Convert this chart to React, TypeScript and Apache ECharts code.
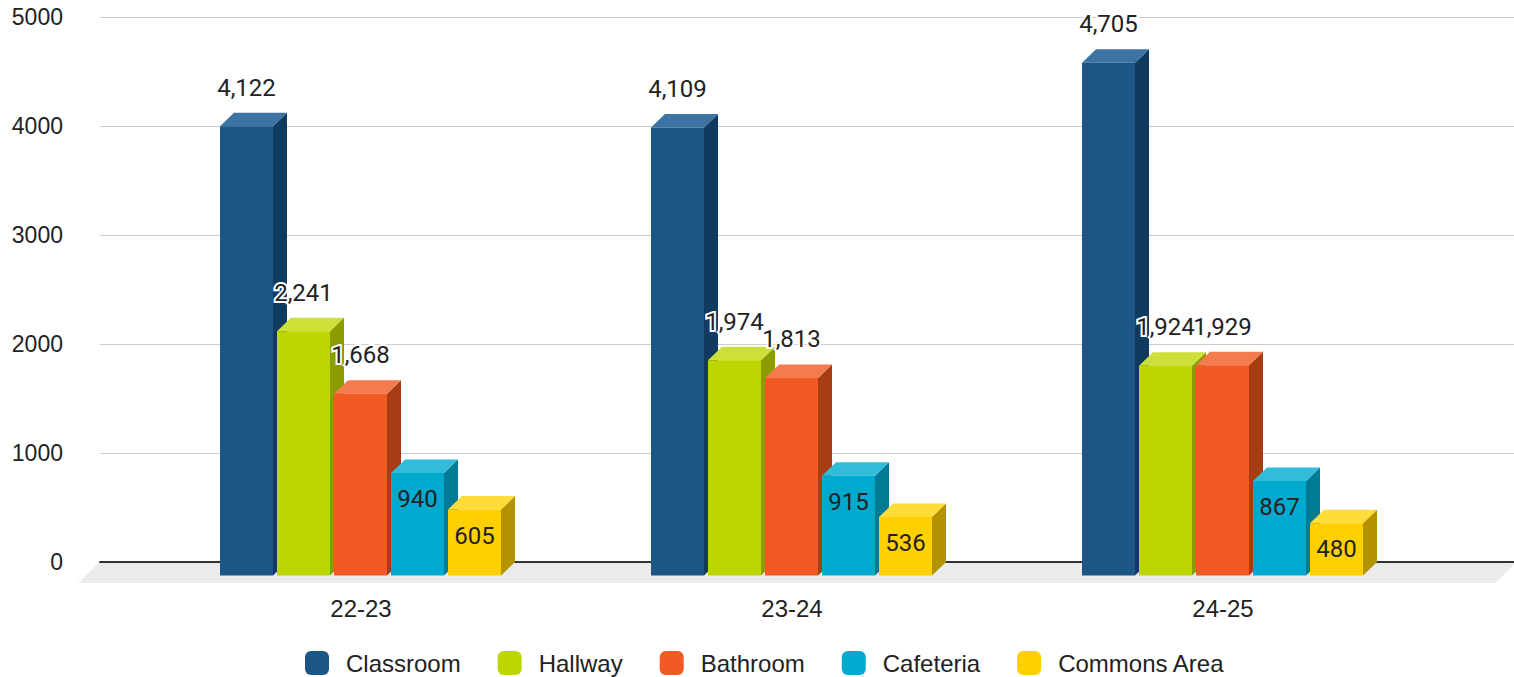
import React, { useEffect, useRef } from "react";
import * as echarts from "echarts";

const categories = ["22-23", "23-24", "24-25"];
const seriesNames = ["Classroom", "Hallway", "Bathroom", "Cafeteria", "Commons Area"];
const classroom = [4122, 4109, 4705];
const hallway = [2241, 1974, 1924];
const bathroom = [1668, 1813, 1929];
const cafeteria = [940, 915, 867];
const commons = [605, 536, 480];
const yTicks = [0, 1000, 2000, 3000, 4000, 5000];

const seriesValues = [classroom, hallway, bathroom, cafeteria, commons];
const frontColors = ["#1b5686", "#bdd600", "#f15a22", "#00a9ce", "#ffd000"];
const topColors = ["#3b73a2", "#cde03a", "#f47b4e", "#33bcd9", "#ffdc3a"];
const sideColors = ["#103b5f", "#8a9c00", "#a63d15", "#007b96", "#b39400"];

const LABEL_FONT = "Roboto";
const AXIS_FONT = "Arial";

export default function App() {
  const ref = useRef<HTMLDivElement>(null);

  useEffect(() => {
    if (!ref.current) return;
    const chart = echarts.init(ref.current, undefined, { renderer: "svg" });

    const DX = 14;
    const DY = 13.5;
    const BAR_W = 53;
    const STEP = 57;

    const series: any[] = seriesValues.map((vals, s) => ({
      name: seriesNames[s],
      type: "custom",
      xAxisIndex: 1,
      yAxisIndex: 1,
      z: 3,
      itemStyle: { color: frontColors[s] },
      data: vals.map((v, i) => [i, v]),
      renderItem: (params: any, api: any) => {
        const ci = api.value(0);
        const v = api.value(1);
        const p = api.coord([ci, v]);
        const p0 = api.coord([ci, 0]);
        const cx = p[0];
        const yv = p[1];
        const L = cx - 141 + s * STEP;
        const R = L + BAR_W;
        const fT = yv + DY;
        const fB = p0[1] + DY;
        const inside = v < 1000;
        const labelY = inside ? fT + 26 : yv - 25;
        return {
          type: "group",
          children: [
            {
              type: "polygon",
              shape: { points: [[R, fT], [R + DX, fT - DY], [R + DX, fB - DY], [R, fB]] },
              style: { fill: sideColors[s] },
            },
            {
              type: "polygon",
              shape: { points: [[L, fT], [R, fT], [R + DX, fT - DY], [L + DX, fT - DY]] },
              style: { fill: topColors[s] },
            },
            {
              type: "rect",
              shape: { x: L, y: fT, width: BAR_W, height: fB - fT },
              style: { fill: frontColors[s] },
            },
            {
              type: "text",
              x: (L + R) / 2,
              y: labelY,
              style: {
                text: v.toLocaleString("en-US"),
                fill: "#222",
                fontSize: 24,
                fontFamily: LABEL_FONT,
                align: "center",
                verticalAlign: "middle",
                stroke: inside ? "transparent" : "#fff",
                lineWidth: inside ? 0 : 4,
              },
            },
          ],
        };
      },
    }));

    const option: any = {
      animation: false,
      backgroundColor: "#fff",
      grid: [
        { left: 100, right: 0, top: 17, height: 545 },
        { left: 145.5, width: 1293, top: 17, height: 545 },
      ],
      xAxis: [
        {
          gridIndex: 0,
          type: "category",
          data: categories,
          axisLine: { show: true, lineStyle: { color: "#333", width: 2 } },
          axisTick: { show: false },
          axisLabel: { show: false },
          splitLine: { show: false },
          z: 2,
        },
        {
          gridIndex: 1,
          type: "category",
          data: categories,
          axisLine: { show: false },
          axisTick: { show: false },
          axisLabel: {
            margin: 34,
            color: "#222",
            fontSize: 24,
            fontFamily: AXIS_FONT,
            lineHeight: 24,
          },
        },
      ],
      yAxis: [
        {
          gridIndex: 0,
          type: "value",
          min: yTicks[0],
          max: yTicks[yTicks.length - 1],
          interval: 1000,
          axisLine: { show: false },
          axisTick: { show: false },
          axisLabel: {
            margin: 37,
            color: "#222",
            fontSize: 23,
            fontFamily: AXIS_FONT,
            formatter: (v: number) => String(v),
          },
          splitLine: { show: true, lineStyle: { color: "#cccccc", width: 1 } },
        },
        {
          gridIndex: 1,
          type: "value",
          min: yTicks[0],
          max: yTicks[yTicks.length - 1],
          interval: 1000,
          show: false,
          splitLine: { show: false },
        },
      ],
      legend: {
        left: 305,
        top: 651,
        padding: 0,
        itemWidth: 24,
        itemHeight: 24,
        itemGap: 37,
        icon: "roundRect",
        data: seriesNames,
        textStyle: {
          color: "#222",
          fontSize: 24,
          lineHeight: 24,
          fontFamily: AXIS_FONT,
          padding: [0, 0, 0, 12],
        },
      },
      graphic: [
        {
          type: "polygon",
          z: 0,
          silent: true,
          shape: { points: [[100, 562], [1517, 562], [1495, 583], [78, 583]] },
          style: { fill: "#ebebeb" },
        },
      ],
      series,
    };

    chart.setOption(option);
    return () => chart.dispose();
  }, []);

  return (
    <div
      ref={ref}
      style={{ position: "fixed", left: 0, top: 0, width: 1514, height: 677 }}
    />
  );
}
